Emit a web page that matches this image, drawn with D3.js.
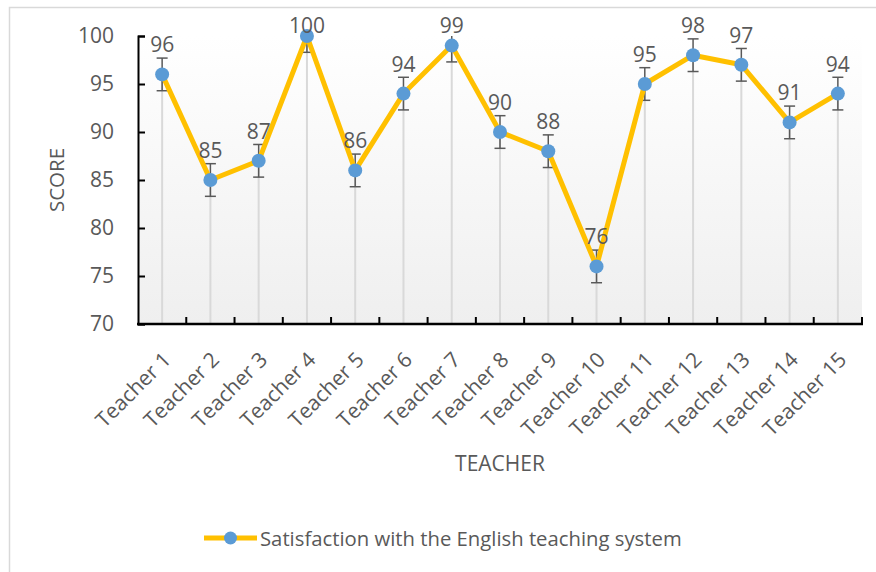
<!DOCTYPE html>
<html>
<head>
<meta charset="utf-8">
<script src="https://cdn.jsdelivr.net/npm/d3@7"></script>
<style>
  body { margin: 0; background: #ffffff; }
  text { font-family: "Open Sans", sans-serif; fill: #595959; }
</style>
</head>
<body>
<div id="chart"></div>
<script>
// data
var teachers = ["Teacher 1", "Teacher 2", "Teacher 3", "Teacher 4", "Teacher 5",
    "Teacher 6", "Teacher 7", "Teacher 8", "Teacher 9", "Teacher 10",
    "Teacher 11", "Teacher 12", "Teacher 13", "Teacher 14", "Teacher 15"];
var scores = [96, 85, 87, 100, 86, 94, 99, 90, 88, 76, 95, 98, 97, 91, 94];
var errors = [1.7, 1.7, 1.7, 1.7, 1.7, 1.7, 1.7, 1.7, 1.7, 1.7, 1.7, 1.7, 1.7, 1.7, 1.7];
var yTicks = [70, 75, 80, 85, 90, 95, 100];
var seriesName = "Satisfaction with the English teaching system";

var W = 876, H = 572;
var plot = { left: 138, right: 862, top: 36, bottom: 324 };

var svg = d3.select("#chart").append("svg")
    .attr("width", W)
    .attr("height", H);

// chart border
svg.append("rect")
    .attr("x", 9.5).attr("y", 7.5)
    .attr("width", W + 10).attr("height", H + 10)
    .attr("fill", "#ffffff")
    .attr("stroke", "#d9d9d9")
    .attr("stroke-width", 1.5);

var x = d3.scaleBand()
    .domain(teachers)
    .range([plot.left, plot.right])
    .padding(0);

var y = d3.scaleLinear()
    .domain([70, 100])
    .range([plot.bottom, plot.top]);

var cx = function(d) { return x(d) + x.bandwidth() / 2; };

// plot area gradient
var defs = svg.append("defs");
var grad = defs.append("linearGradient")
    .attr("id", "bg")
    .attr("x1", 0).attr("y1", 0).attr("x2", 0).attr("y2", 1);
grad.append("stop").attr("offset", "0%").attr("stop-color", "#ffffff");
grad.append("stop").attr("offset", "100%").attr("stop-color", "#efefef");

defs.append("clipPath").attr("id", "clip")
    .append("rect")
    .attr("x", plot.left).attr("y", plot.top)
    .attr("width", plot.right - plot.left)
    .attr("height", plot.bottom - plot.top);

svg.append("rect")
    .attr("x", plot.left).attr("y", plot.top)
    .attr("width", plot.right - plot.left)
    .attr("height", plot.bottom - plot.top)
    .attr("fill", "url(#bg)");

// drop lines
svg.append("g").selectAll("line")
    .data(teachers)
    .enter().append("line")
    .attr("x1", cx).attr("x2", cx)
    .attr("y1", function(d, i) { return y(scores[i]); })
    .attr("y2", plot.bottom)
    .attr("stroke", "#d9d9d9")
    .attr("stroke-width", 2);

// error bars, clipped to plot area like excel does
var eb = svg.append("g").attr("clip-path", "url(#clip)")
    .selectAll("g")
    .data(teachers)
    .enter().append("g")
    .attr("stroke", "#595959")
    .attr("stroke-width", 1.5);
eb.append("line")
    .attr("x1", cx).attr("x2", cx)
    .attr("y1", function(d, i) { return y(scores[i] + errors[i]); })
    .attr("y2", function(d, i) { return y(scores[i] - errors[i]); });
eb.append("line")
    .attr("x1", function(d) { return cx(d) - 5.5; })
    .attr("x2", function(d) { return cx(d) + 5.5; })
    .attr("y1", function(d, i) { return y(scores[i] + errors[i]); })
    .attr("y2", function(d, i) { return y(scores[i] + errors[i]); });
eb.append("line")
    .attr("x1", function(d) { return cx(d) - 5.5; })
    .attr("x2", function(d) { return cx(d) + 5.5; })
    .attr("y1", function(d, i) { return y(scores[i] - errors[i]); })
    .attr("y2", function(d, i) { return y(scores[i] - errors[i]); });

// axes
var yAxis = d3.axisLeft(y).tickValues(yTicks).tickSize(-7).tickPadding(24);
var gy = svg.append("g")
    .attr("transform", "translate(" + plot.left + ",0)")
    .call(yAxis);
gy.select(".domain").attr("stroke", "#000").attr("stroke-width", 2);
gy.selectAll(".tick line").attr("stroke", "#000").attr("stroke-width", 2);
gy.selectAll(".tick text")
    .attr("font-size", 21)
    .attr("font-family", "'Open Sans', sans-serif")
    .attr("fill", "#595959");

var xAxisLine = svg.append("g");
xAxisLine.append("line")
    .attr("x1", plot.left - 1).attr("x2", plot.right + 1)
    .attr("y1", plot.bottom).attr("y2", plot.bottom)
    .attr("stroke", "#000").attr("stroke-width", 2.5);
// tick marks between categories
var bounds = teachers.map(function(d) { return x(d); }).concat([plot.right]);
xAxisLine.selectAll("line.tk")
    .data(bounds.slice(1))
    .enter().append("line")
    .attr("class", "tk")
    .attr("x1", function(d) { return d; }).attr("x2", function(d) { return d; })
    .attr("y1", plot.bottom).attr("y2", plot.bottom - 7)
    .attr("stroke", "#000").attr("stroke-width", 2);

// x labels rotated
svg.append("g").selectAll("text")
    .data(teachers)
    .enter().append("text")
    .attr("transform", function(d) {
        return "translate(" + (cx(d) + 10) + "," + (plot.bottom + 37) + ") rotate(-45)";
    })
    .attr("text-anchor", "end")
    .attr("font-size", 21)
    .text(function(d) { return d; });

// series line
var line = d3.line()
    .x(function(d, i) { return cx(teachers[i]); })
    .y(function(d) { return y(d); });

svg.append("path")
    .datum(scores)
    .attr("d", line)
    .attr("fill", "none")
    .attr("stroke", "#FFC000")
    .attr("stroke-width", 5)
    .attr("stroke-linejoin", "round");

svg.append("g").selectAll("circle")
    .data(scores)
    .enter().append("circle")
    .attr("cx", function(d, i) { return cx(teachers[i]); })
    .attr("cy", function(d) { return y(d); })
    .attr("r", 7)
    .attr("fill", "#5B9BD5");

// data labels above points (pushed down near the chart top)
svg.append("g").selectAll("text")
    .data(scores)
    .enter().append("text")
    .attr("x", function(d, i) { return cx(teachers[i]); })
    .attr("y", function(d) { return Math.max(y(d) - 22, 33); })
    .attr("text-anchor", "middle")
    .attr("font-size", 21)
    .text(function(d) { return d; });

// axis titles
svg.append("text")
    .attr("transform", "translate(64,180) rotate(-90)")
    .attr("text-anchor", "middle")
    .attr("font-size", 20.5)
    .text("SCORE");

svg.append("text")
    .attr("x", 500).attr("y", 471)
    .attr("text-anchor", "middle")
    .attr("font-size", 21)
    .text("TEACHER");

// legend
var lg = svg.append("g").attr("transform", "translate(204,538)");
lg.append("line")
    .attr("x1", 0).attr("x2", 53)
    .attr("y1", 0).attr("y2", 0)
    .attr("stroke", "#FFC000").attr("stroke-width", 5);
lg.append("circle")
    .attr("cx", 26.5).attr("cy", 0).attr("r", 6.5)
    .attr("fill", "#5B9BD5");
lg.append("text")
    .attr("x", 56).attr("y", 7.5)
    .attr("font-size", 20.3)
    .text(seriesName);
</script>
</body>
</html>
